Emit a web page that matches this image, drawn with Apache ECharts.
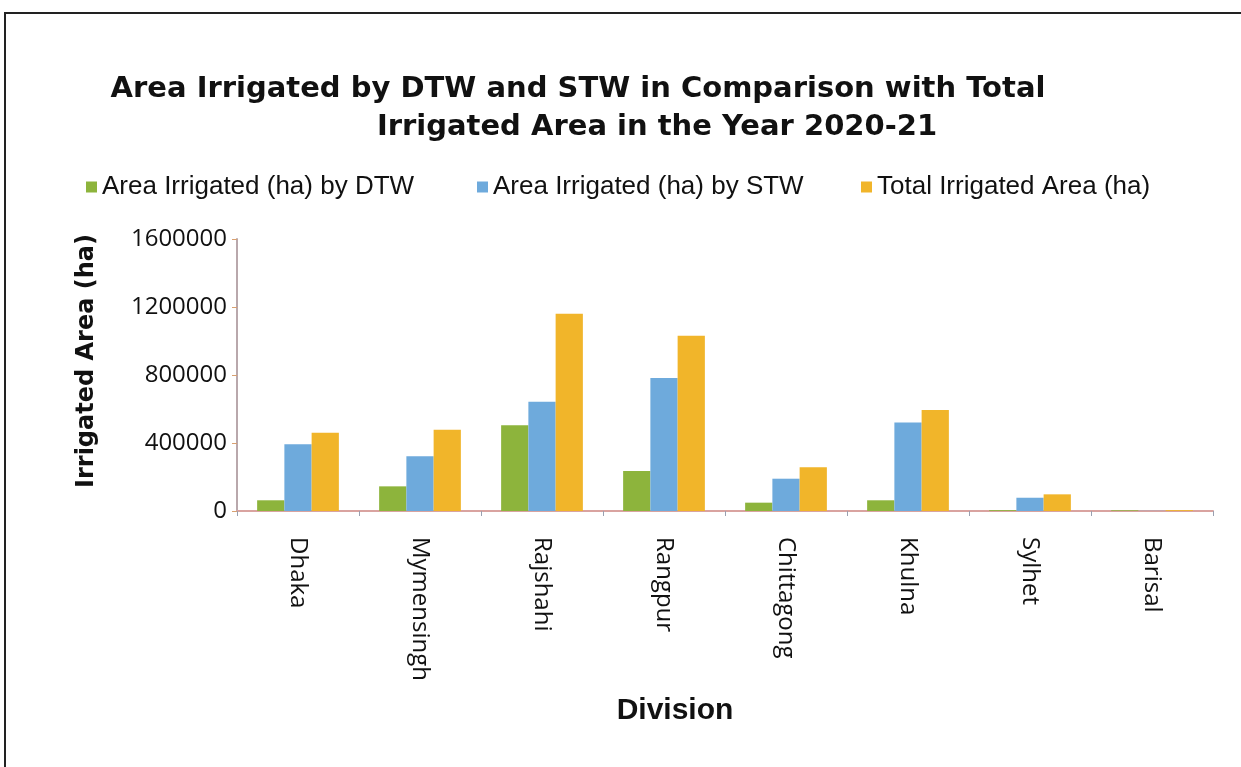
<!DOCTYPE html>
<html>
<head>
<meta charset="utf-8">
<script src="https://cdn.jsdelivr.net/npm/echarts@6/dist/echarts.min.js"></script>
<style>
html,body{margin:0;padding:0;background:#fff;}
#chart{width:1241px;height:767px;}
</style>
</head>
<body>
<div id="chart"></div>
<script>
const categories = ['Dhaka','Mymensingh','Rajshahi','Rangpur','Chittagong','Khulna','Sylhet','Barisal'];
const dtwArea = [63000, 145000, 504000, 235000, 49000, 63000, 5000, 4000];
const stwArea = [392000, 322000, 643000, 782000, 190000, 521000, 78000, 1000];
const totalArea = [461000, 478000, 1160000, 1031000, 257000, 594000, 98000, 5000];
const seriesNames = ['Area Irrigated (ha) by DTW', 'Area Irrigated (ha) by STW', 'Total Irrigated Area (ha)'];
const titleLine1 = 'Area Irrigated by DTW and STW in Comparison with Total';
const titleLine2 = 'Irrigated Area in the Year 2020-21';
const xName = 'Division';
const yName = 'Irrigated Area (ha)';

const colors = ['#8db43c', '#6eaadc', '#f1b52a'];
const chart = echarts.init(document.getElementById('chart'));
const legendFont = {fontFamily: '"Liberation Sans", Arial, sans-serif', fontSize: 26, color: '#111'};
const legendBase = {top: 174, itemWidth: 11, itemHeight: 11, icon: 'rect', itemGap: 10, textStyle: legendFont, padding: 0};
const titleFont = {fontFamily: '"DejaVu Sans", sans-serif', fontWeight: 'bold', fontSize: 29, color: '#111'};
chart.setOption({
  animation: false,
  color: colors,
  title: [
    {text: titleLine1, left: 578, top: 75, textAlign: 'center', padding: 0, textStyle: titleFont},
    {text: titleLine2, left: 657, top: 113, textAlign: 'center', padding: 0, textStyle: titleFont},
    {text: xName, left: 675, top: 696, textAlign: 'center', padding: 0,
     textStyle: {fontFamily: '"Liberation Sans", Arial, sans-serif', fontWeight: 'bold', fontSize: 30, color: '#111'}}
  ],
  legend: [
    Object.assign({}, legendBase, {left: 86, data: [seriesNames[0]]}),
    Object.assign({}, legendBase, {left: 477, data: [seriesNames[1]]}),
    Object.assign({}, legendBase, {left: 861, data: [seriesNames[2]]})
  ],
  grid: {left: 237, right: 28, top: 239, bottom: 256, containLabel: false},
  xAxis: {
    type: 'category', data: categories,
    axisLine: {lineStyle: {color: '#d9a3a0', width: 2}},
    axisTick: {show: true, length: 5, lineStyle: {color: '#9aa0b0'}},
    axisLabel: {rotate: -90, margin: 26, fontFamily: '"Open Sans", sans-serif', fontSize: 24, color: '#111'}
  },
  yAxis: {
    type: 'value', min: 0, max: 1600000, interval: 400000,
    name: yName, nameLocation: 'middle', nameGap: 138, nameRotate: 90,
    nameTextStyle: {fontFamily: '"DejaVu Sans", sans-serif', fontWeight: 'bold', fontSize: 24, color: '#111',
      padding: [0, 0, 0, 28]},
    axisLine: {show: true, lineStyle: {color: '#b9a8ac', width: 2}},
    axisTick: {show: true, length: 5, lineStyle: {color: '#d8a070'}},
    splitLine: {show: false},
    axisLabel: {margin: 10, fontFamily: '"Open Sans", sans-serif', fontSize: 24, color: '#111',
      formatter: function (v) { return String(v); }}
  },
  series: [
    {name: seriesNames[0], type: 'bar', data: dtwArea, barGap: '0%', barCategoryGap: '33%',
     itemStyle: {color: colors[0]}},
    {name: seriesNames[1], type: 'bar', data: stwArea, barGap: '0%', barCategoryGap: '33%',
     itemStyle: {color: colors[1]}},
    {name: seriesNames[2], type: 'bar', data: totalArea, barGap: '0%', barCategoryGap: '33%',
     itemStyle: {color: colors[2]}}
  ],
  graphic: [
    {type: 'polyline', shape: {points: [[5, 767], [5, 13], [1241, 13]]}, style: {stroke: '#222', lineWidth: 2, fill: null}}
  ]
});
</script>
</body>
</html>
